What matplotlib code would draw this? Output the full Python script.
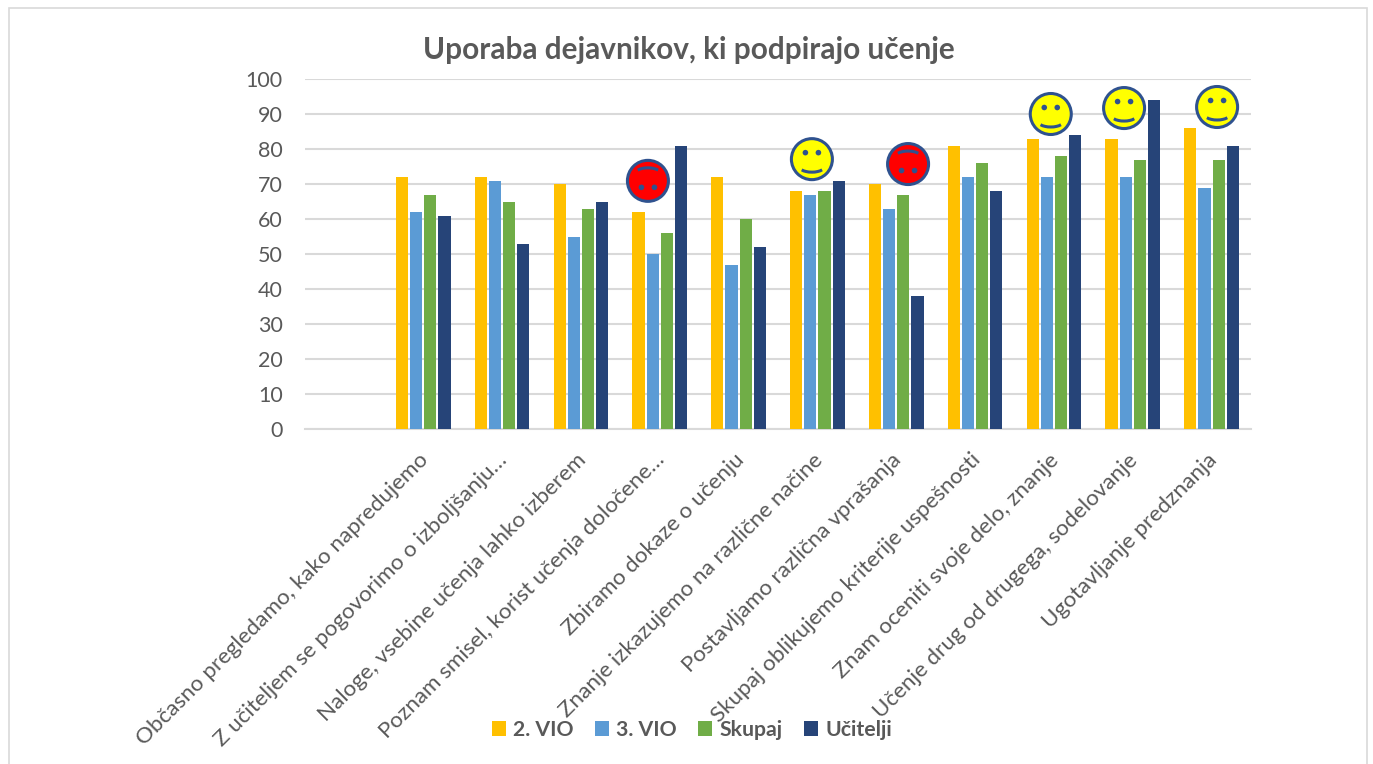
import matplotlib.pyplot as plt
from matplotlib.patches import Circle, Arc, Rectangle
from matplotlib.transforms import Affine2D

categories = ['',
              'Občasno pregledamo, kako napredujemo',
              'Z učiteljem se pogovorimo o izboljšanju…',
              'Naloge, vsebine učenja lahko izberem',
              'Poznam smisel, korist učenja določene…',
              'Zbiramo dokaze o učenju',
              'Znanje izkazujemo na različne načine',
              'Postavljamo različna vprašanja',
              'Skupaj oblikujemo kriterije uspešnosti',
              'Znam oceniti svoje delo, znanje',
              'Učenje drug od drugega, sodelovanje',
              'Ugotavljanje predznanja']
vio2 = [None, 72, 72, 70, 62, 72, 68, 70, 81, 83, 83, 86]
vio3 = [None, 62, 71, 55, 50, 47, 67, 63, 72, 72, 72, 69]
skupaj = [None, 67, 65, 63, 56, 60, 68, 67, 76, 78, 77, 77]
ucitelji = [None, 61, 53, 65, 81, 52, 71, 38, 68, 84, 94, 81]
series_names = ['2. VIO', '3. VIO', 'Skupaj', 'Učitelji']
colors = ['#FFC000', '#5B9BD5', '#70AD47', '#264478']

# smeski: polozaj v enotah osi (kategorija, vrednost)
happy_x = [5.93, 8.96, 9.89, 11.07]
happy_y = [77.1, 90.0, 91.7, 92.0]
sad_x = [3.85, 7.15]
sad_y = [70.9, 75.7]

W, H = 1373, 764
plt.rcParams['font.family'] = ['Lato', 'DejaVu Sans']
fig = plt.figure(figsize=(W / 100, H / 100), dpi=100)
ax = fig.add_axes([305 / W, 1 - 429 / H, 946 / W, 350 / H])

fig.add_artist(Rectangle((8.5 / W, -0.1), 1358.5 / W, 1.1 - 8.5 / H, transform=fig.transFigure,
                         fill=False, ec='#D9D9D9', lw=1.2))

all_series = [vio2, vio3, skupaj, ucitelji]
for i, vals in enumerate(all_series):
    xs = [k + (i - 1.5) * 0.18 for k, v in enumerate(vals) if v is not None]
    ys = [v for v in vals if v is not None]
    ax.bar(xs, ys, width=0.155, color=colors[i], label=series_names[i], zorder=3)

ax.set_xlim(-0.5, 11.5)
ax.set_ylim(0, 100)
ax.set_yticks(range(0, 101, 10))
ax.set_xticks(range(len(categories)))
ax.set_xticklabels(categories, rotation=45, ha='right', va='top', rotation_mode='anchor',
                   fontsize=16.1, color='#595959')
ax.tick_params(axis='both', length=0)
ax.tick_params(axis='y', labelsize=15.5, labelcolor='#595959', pad=16)
ax.tick_params(axis='x', pad=15)
ax.grid(axis='y', color='#D9D9D9', lw=1.5, zorder=0)
ax.set_axisbelow(True)
for name in ['top', 'left', 'right']:
    ax.spines[name].set_visible(False)
ax.spines['bottom'].set_color('#D9D9D9')
ax.spines['bottom'].set_linewidth(1.5)
for label in ax.get_xticklabels():
    label.set_transform(label.get_transform() + Affine2D().translate(-5, 0))

fig.text(688.5 / W, 1 - 50 / H, 'Uporaba dejavnikov, ki podpirajo učenje', ha='center', va='center',
         fontsize=21.4, fontweight='bold', color='#595959')

ax.legend(loc='center', bbox_to_anchor=(692 / W, 1 - 730 / H), bbox_transform=fig.transFigure,
          ncol=4, frameon=False, handlelength=0.66, handleheight=0.66, handletextpad=0.35,
          columnspacing=1.0, prop={'size': 15.3, 'weight': 'bold'}, labelcolor='#595959')


def draw_face(x, y, fill, happy):
    px, py = ax.transData.transform((x, y))
    r = 20.5
    edge = '#2F528F'
    fig.add_artist(Circle((px, py), r, fc=fill, ec=edge, lw=2.2, transform=None, zorder=5))
    sign = 1 if happy else -1
    for dx in (-6.5, 6.5):
        fig.add_artist(Circle((px + dx, py + sign * 6.5), 2.8, fc=edge, ec='none',
                              transform=None, zorder=6))
    if happy:
        fig.add_artist(Arc((px, py - 7), 26, 12, theta1=200, theta2=340, ec=edge, lw=2.2,
                           transform=None, zorder=6))
    else:
        fig.add_artist(Arc((px, py + 7), 26, 12, theta1=20, theta2=160, ec=edge, lw=2.2,
                           transform=None, zorder=6))


for x, y in zip(happy_x, happy_y):
    draw_face(x, y, '#FFFF00', True)
for x, y in zip(sad_x, sad_y):
    draw_face(x, y, '#FF0000', False)

fig.savefig('out.png', dpi=100)
